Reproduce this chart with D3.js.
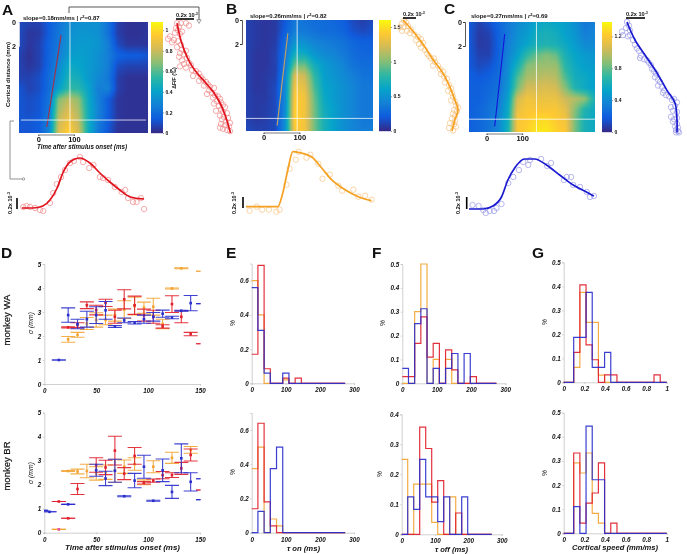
<!DOCTYPE html>
<html><head><meta charset="utf-8">
<style>html,body{margin:0;padding:0;background:#fff}svg{display:block;filter:blur(.4px)}text{font-family:"Liberation Sans",Arial,sans-serif;fill:#111}</style>
<script src="https://cdnjs.cloudflare.com/ajax/libs/d3/7.8.5/d3.min.js"></script></head><body>
<script>
/* colour map */
const parulaStops=[0,.125,.25,.375,.5,.625,.75,.875,1];
const parulaColors=['#352a87','#0f5cdd','#1481d6','#06a4ca','#2eb7a4','#87bf77','#d1bb59','#fec832','#f9fb0e'];
const RED='#e0202c',ORANGE='#f2a535',BLUE='#2a2fcc';

/* heat maps : fraction of colour range, rows = cortical distance, cols = time */
const heatA=[
[.08,.06,.06,.13,.20,.28,.30,.30,.30,.20,.05,.02,.02,.03],
[.08,.03,.04,.13,.22,.30,.32,.32,.30,.20,.05,.02,.02,.03],
[.08,.03,.06,.15,.22,.32,.34,.34,.32,.24,.08,.03,.03,.03],
[.06,.02,.06,.15,.24,.34,.36,.34,.30,.24,.15,.13,.13,.11],
[.06,.03,.06,.16,.28,.40,.38,.34,.30,.24,.08,.06,.06,.06],
[.06,.06,.09,.18,.30,.45,.42,.34,.28,.22,.05,.02,.02,.02],
[.11,.06,.09,.18,.36,.50,.48,.38,.24,.25,.05,.02,.02,.02],
[.11,.09,.11,.20,.62,.72,.64,.40,.25,.13,.03,.02,.02,.02],
[.11,.09,.11,.22,.68,.78,.68,.42,.26,.13,.03,.02,.02,.02],
[.11,.11,.13,.24,.74,.84,.72,.42,.24,.13,.03,.02,.02,.02],
[.11,.11,.13,.26,.78,.90,.76,.42,.22,.11,.02,.02,.02,.02]];
const heatB=[
[.06,.04,.03,.04,.12,.22,.20,.18,.18,.16,.14,.08,.05,.08],
[.06,.04,.03,.04,.14,.24,.22,.20,.18,.18,.15,.10,.08,.10],
[.06,.04,.03,.05,.18,.32,.30,.26,.24,.22,.20,.16,.14,.14],
[.06,.03,.03,.06,.20,.42,.40,.32,.28,.26,.22,.18,.16,.16],
[.06,.03,.03,.06,.22,.58,.58,.42,.34,.30,.26,.20,.18,.18],
[.06,.03,.04,.06,.26,.78,.74,.50,.36,.32,.28,.24,.20,.20],
[.06,.03,.04,.08,.28,.84,.80,.54,.38,.34,.30,.26,.22,.22],
[.06,.04,.04,.08,.28,.88,.84,.58,.40,.34,.30,.26,.22,.22],
[.06,.04,.05,.08,.28,.90,.84,.60,.42,.36,.30,.26,.22,.22],
[.06,.04,.05,.08,.30,.90,.84,.60,.44,.36,.30,.26,.22,.22],
[.08,.06,.06,.08,.30,.88,.84,.60,.44,.36,.30,.26,.24,.24]];
const heatC=[
[.12,.06,.10,.16,.22,.28,.32,.38,.40,.38,.36,.30,.22,.24],
[.12,.04,.06,.14,.22,.30,.34,.42,.44,.42,.36,.32,.24,.26],
[.12,.04,.05,.14,.24,.32,.38,.44,.46,.44,.40,.34,.28,.28],
[.12,.06,.06,.14,.26,.36,.50,.58,.62,.58,.44,.38,.34,.32],
[.12,.08,.10,.16,.28,.44,.62,.66,.66,.66,.48,.40,.36,.34],
[.14,.12,.14,.18,.30,.54,.68,.70,.72,.70,.54,.42,.40,.36],
[.14,.14,.16,.20,.32,.60,.76,.76,.78,.76,.62,.46,.40,.36],
[.14,.14,.18,.22,.36,.76,.84,.82,.82,.82,.74,.70,.64,.45],
[.14,.16,.20,.24,.40,.82,.86,.86,.86,.86,.80,.62,.46,.40],
[.14,.16,.20,.26,.42,.86,.88,.92,.92,.88,.84,.60,.44,.40],
[.14,.16,.20,.26,.44,.86,.90,.95,.95,.90,.86,.60,.44,.40]];

/* spatial profile : [dF (scale-bar units), distance mm] */
const profLineA=[[0,.1],[3,1.25],[7,2.3],[13,3.4],[20,4.25],[28,5],[36,5.8],[43,6.75],[48,7.75],[52,8.8],[53.5,9.25]];
const profPtsA=[[0,.1],[4,.1],[9,.1],[12,.3],[2,.4],[-1,.5],[1,.7],[5,.8],[-2,.9],[3,1.0],[-7,1.2],[-9,1.4],[-3,1.5],[-5,1.7],[1,1.6],[4,1.9],[0,2.1],[5,2.3],[9,2.4],[3,2.6],[7,2.7],[2,2.9],[10,3.0],[5,3.2],[12,3.4],[7,3.5],[14,3.6],[9,3.8],[3,3.7],[15,4.0],[19,4.1],[22,4.3],[16,4.5],[24,4.6],[26,4.8],[22,4.9],[29,5.0],[31,5.2],[27,5.3],[33,5.4],[37,5.5],[32,5.7],[35,5.9],[30,6.0],[38,6.1],[41,6.2],[36,6.3],[43,6.4],[40,6.6],[44,6.7],[37,6.8],[46,6.9],[42,7.0],[48,7.1],[44,7.3],[39,7.4],[46,7.5],[50,7.6],[43,7.8],[47,7.9],[51,8.0],[45,8.1],[49,8.3],[53,8.4],[44,8.5],[48,8.6],[52,8.7],[43,8.8],[46,8.9],[50,9.0],[53,9.1]];
const profLineB=[[0,0],[9,.83],[19,1.9],[30,3.3],[39,4.3],[46,5.4],[52,6.7],[55,7.5],[52,8.3],[49,9.25]];
const profPtsB=[[1,.05],[-1,.3],[3,.2],[-3,.6],[1,.6],[5,.5],[-1,.9],[4,.9],[8,.8],[7,1.1],[11,1.2],[15,1.4],[13,1.7],[18,1.6],[16,2.0],[20,1.9],[18,2.3],[22,2.5],[24,2.8],[26,3.0],[28,3.2],[31,3.2],[32,3.5],[30,3.8],[35,3.8],[37,4.1],[40,4.3],[38,4.5],[41,4.7],[44,4.9],[42,5.2],[46,5.4],[48,5.7],[45,5.9],[49,6.1],[50,6.4],[48,6.7],[52,6.8],[53,7.1],[55,7.3],[51,7.5],[54,7.6],[50,7.8],[52,8.0],[49,8.2],[52,8.4],[47,8.6],[51,8.7],[53,8.9],[46,9.0],[50,9.2]];
const profLineC=[[0,0],[8,1.5],[18,2.75],[30,4.25],[40,5.7],[48,6.75],[50,8.2],[50,9.2]];
const profPtsC=[[0,.0],[2,.3],[-1,.5],[3,.7],[-5,.8],[-4,1.1],[1,1.2],[3,1.1],[6,1.5],[8,1.9],[10,2.2],[12,2.4],[14,2.8],[13,3.0],[17,3.1],[20,3.2],[22,3.4],[24,3.6],[25,3.9],[27,4.1],[29,4.3],[28,4.6],[31,4.8],[33,5.0],[31,5.3],[35,5.4],[37,5.7],[36,5.9],[39,6.1],[42,6.2],[45,6.5],[47,6.4],[50,6.7],[48,7.0],[44,7.1],[46,7.4],[50,7.5],[44,7.9],[47,8.1],[50,8.0],[46,8.3],[50,8.5],[48,8.7],[51,8.8],[49,9.0],[51,9.1],[49,9.2],[52,9.2]];

/* time traces : [ms, dF (arbitrary)] */
const traceLineA=[[-46,0],[-15,0],[13,2],[33,8],[53,20],[69,35],[89,46],[117,50],[145,45],[173,35],[201,26],[229,18],[258,11],[297,9]];
const tracePtsA=[[-42,1],[-33,2],[-23,1],[-9,0],[5,-2],[14,-3],[33,5],[42,15],[52,24],[64,31],[75,38],[89,45],[100,47],[117,51],[126,46],[143,40],[155,43],[173,31],[182,30],[196,28],[215,21],[234,16],[244,18],[252,10],[266,6],[276,6],[288,10],[297,-1]];
const traceLineB=[[-49,0],[40,0],[54,14],[68,37],[82,55],[101,54],[134,50],[162,39],[190,27],[228,17],[265,10],[302,6]];
const tracePtsB=[[-39,-4],[-19,0],[-4,-3],[15,-3],[36,-5],[45,-3],[64,22],[73,38],[90,47],[98,55],[120,49],[131,52],[153,43],[165,28],[185,32],[209,21],[220,16],[251,17],[265,10],[284,11],[302,7]];
const traceLineC=[[-49,0],[-10,0],[18,3],[42,12],[60,29],[79,41],[107,50],[135,50],[168,44],[205,34],[243,24],[280,17],[301,13]];
const tracePtsC=[[-39,4],[-22,3],[-9,-1],[-2,-4],[9,-2],[21,-2],[28,1],[42,5],[61,26],[75,32],[91,39],[103,47],[117,44],[122,49],[153,50],[170,43],[181,46],[217,29],[225,32],[237,32],[243,24],[262,22],[281,17],[290,12],[301,13]];

/* panel D : [time ms, sigma mm, error] */
const dWaBlue=[[14,1,0],[23,2.87,.3],[32,2.5,.2],[41,2.7,.33],[50,2.87,.35],[59,3.07,.37],[68,2.4,.04],[77,2.65,.1],[87,2.55,.05],[96,2.7,.17],[105,2.8,.18],[114,2.93,.15],[123,2.77,.05],[132,3.05,.02],[141,3.37,.32],[153,3.35,0]];
const dWaRed=[[23,2.36,.02],[32,2.45,.1],[41,3.28,.14],[50,3.08,.2],[59,3.38,.15],[68,2.8,.27],[77,3.53,.4],[87,3.28,.38],[96,2.87,.25],[105,2.8,.27],[114,2.4,.07],[123,3.33,.35],[132,2.8,.25],[141,2.08,.07],[153,1.68,0]];
const dWaOrange=[[23,1.86,.12],[32,2.05,.1],[41,2.52,.25],[50,2.67,.3],[59,2.67,.2],[68,2.87,.25],[77,3.1,.37],[87,3.25,.37],[96,3.18,.23],[105,3.22,.35],[114,2.5,.2],[123,3.98,.02],[132,4.82,.02],[153,4.7,0]];
const dBrBlue=[[-3,.93,0],[5,.87,0],[23,1.18,0],[50,2.6,.25],[59,2.26,.3],[68,2.58,.48],[77,1.52,.02],[87,2.17,.3],[96,2.75,.48],[105,1.33,.02],[114,2.6,.47],[123,1.7,.27],[132,3.1,.6],[141,2.12,.38],[153,2.25,0],[153,1.38,0]];
const dBrRed=[[14,1.3,0],[23,.6,0],[32,1.82,.23],[50,2.82,.3],[59,2.72,.3],[68,3.42,.6],[77,2.46,.25],[87,3.2,.35],[96,2.08,.05],[105,2.17,.07],[114,2.4,.15],[123,2.4,.1],[132,2.68,.25],[141,3.24,.25],[153,1.78,0]];
const dBrOrange=[[14,.14,0],[23,2.57,.02],[32,2.55,.1],[41,2.57,.28],[50,2.47,.28],[59,2.52,.3],[68,2.58,.48],[77,2.75,.28],[87,2.86,.26],[96,2.1,.1],[105,2.75,.25],[123,3.12,.23],[141,3.45,.14]];

/* histograms: proportion per bin */
const eWaRed=[.17,.69,.085,0,0,.03,0,.03,0,0,0,0,0,0,0];
const eWaOrange=[.6,.4,0,0,0,.02,0,0,0,0,0,0,0,0,0];
const eWaBlue=[.56,.31,.06,0,0,.06,0,0,0,0,0,0,0,0,0];
const eBrRed=[.14,.64,.18,.04,0,0,0,0,0,0,0,0,0,0,0];
const eBrOrange=[.375,.5,0,.08,.04,0,0,0,0,0,0,0,0,0,0];
const eBrBlue=[0,.125,0,.375,.5,0,0,0,0,0,0,0,0,0,0];
const fWaRed=[.028,.028,.167,.278,.11,.167,0,.14,.056,0,0,.028,0,0,0];
const fWaOrange=[0,0,.3,.5,0,.1,0,.1,0,0,0,0,0,0,0];
const fWaBlue=[.0625,0,.25,.3125,0,.0625,0,.0625,.125,0,.125,0,0,0,0];
const fBrRed=[0,0,0,.357,.286,.107,.179,0,0,.071,0,0,0,0,0];
const fBrOrange=[.25,0,.167,.167,.167,.04,0,0,.125,0,0,0,0,0,0];
const fBrBlue=[0,.125,.083,.25,.125,.125,.042,.125,0,0,.125,0,0,0,0];
const gWaRed=[.125,.406,.156,.094,0,.031,.031,0,0,0,0,0,0,.031,0];
const gWaOrange=[.0625,.375,.25,.25,.03,0,0,0,0,0,0,0,0,0,0];
const gWaBlue=[.1875,.1875,.375,.0625,.0625,.125,0,0,0,0,0,0,0,0,0];
const gBrRed=[.333,.042,.125,.167,.292,0,.042,0,0,0,0,0,0,0,0];
const gBrOrange=[.292,.25,.333,.083,.042,0,0,0,0,0,0,0,0,0,0];
const gBrBlue=[.111,0,.444,.222,.222,0,0,0,0,0,0,0,0,0,0];

const W=687,H=554;
const svg=d3.select('body').append('svg').attr('width',W).attr('height',H);
const parula=d3.scaleLinear().domain(parulaStops).range(parulaColors).clamp(true);

function label(x,y,str,o={}){
  const t=svg.append('text').attr('x',x).attr('y',y).text(str)
   .attr('font-size',o.size||7).attr('font-weight',o.weight||'bold')
   .attr('font-style',o.style||'normal').attr('text-anchor',o.anchor||'start');
  if(o.rotate) t.attr('transform',`rotate(-90,${x},${y})`).attr('text-anchor','middle');
  if(o.len) t.attr('textLength',o.len).attr('lengthAdjust','spacingAndGlyphs');
  return t;
}
function sci(x,y,o={}){
  const t=label(x,y,'0.2x 10',Object.assign({size:5.6},o));
  t.append('tspan').attr('dy',-2).attr('font-size',3.6).text('-3');
  return t;
}

function heatPanel(p){
  const {x0,x1,y0,y1}=p;
  const xS=d3.scaleLinear().domain(p.tDomain).range([x0,x1]);
  const yS=d3.scaleLinear().domain([0,(y1-y0)/12]).range([y0,y1]);
  const w=Math.round(x1-x0),h=Math.round(y1-y0);
  const c=document.createElement('canvas');c.width=w;c.height=h;
  const ctx=c.getContext('2d');const img=ctx.createImageData(w,h);
  const R=p.grid.length-1,C=p.grid[0].length-1;
  const cx=d3.scaleLinear().domain([0,w-1]).range([0,C]);
  const cy=d3.scaleLinear().domain([0,h-1]).range([0,R]);
  for(let j=0;j<h;j++)for(let i=0;i<w;i++){
    const u=cx(i),v=cy(j),a=Math.min(Math.floor(u),C-1),b=Math.min(Math.floor(v),R-1),fu=u-a,fv=v-b;
    const val=d3.interpolateNumber(
      d3.interpolateNumber(p.grid[b][a],p.grid[b][a+1])(fu),
      d3.interpolateNumber(p.grid[b+1][a],p.grid[b+1][a+1])(fu))(fv);
    const col=d3.rgb(parula(val)),k=(j*w+i)*4;
    img.data[k]=col.r;img.data[k+1]=col.g;img.data[k+2]=col.b;img.data[k+3]=255;
  }
  ctx.putImageData(img,0,0);
  svg.append('image').attr('x',x0).attr('y',y0).attr('width',x1-x0).attr('height',y1-y0)
     .attr('preserveAspectRatio','none').attr('href',c.toDataURL());
  svg.append('line').attr('x1',xS(p.slope[0][0])).attr('y1',yS(p.slope[0][1])).attr('x2',xS(p.slope[1][0])).attr('y2',yS(p.slope[1][1]))
     .attr('stroke',p.slopeColor).attr('stroke-width',1.1);
  svg.append('line').attr('x1',xS(p.tLine)).attr('x2',xS(p.tLine)).attr('y1',y0).attr('y2',y1).attr('stroke','#fff').attr('stroke-opacity',.75).attr('stroke-width',1);
  svg.append('line').attr('x1',x0+(p.hInset||0)).attr('x2',x1-(p.hInset||0)).attr('y1',yS(p.dLine)).attr('y2',yS(p.dLine)).attr('stroke','#fff').attr('stroke-opacity',.75).attr('stroke-width',1);
  // distance axis
  const ax=svg.append('g').attr('transform',`translate(${x0-p.axisGap},0)`).call(d3.axisLeft(d3.scaleLinear().domain([0,2]).range([yS(0),yS(2)])).tickValues([0,2]).tickFormat(d3.format('d')).tickSize(2).tickPadding(1));
  ax.selectAll('path,line').attr('stroke',p.axisColor).attr('stroke-width',.8);
  ax.selectAll('text').attr('font-size',7.2).attr('font-weight','bold').style('font-family','"Liberation Sans"').attr('fill','#111');
  // time axis
  const ta=svg.append('g').attr('transform',`translate(0,${y1+1.5})`).call(d3.axisBottom(d3.scaleLinear().domain([0,100]).range([xS(0),xS(100)])).tickValues([0,100]).tickFormat(d3.format('d')).tickSize(1.5).tickPadding(1));
  ta.selectAll('path,line').attr('stroke','#444').attr('stroke-width',.7);
  ta.selectAll('text').attr('font-size',7.5).attr('font-weight','bold').style('font-family','"Liberation Sans"').attr('fill','#111');
  // colour bar
  const cbS=d3.scaleLinear().domain([0,p.cbMax]).range([y1,y0]);
  const rows=d3.range(0,y1-y0);
  svg.append('g').selectAll('rect').data(rows).join('rect').attr('x',p.cb0).attr('y',d=>y1-d-1).attr('width',p.cb1-p.cb0).attr('height',1.2).attr('fill',d=>parula(d/(y1-y0)));
  const ca=svg.append('g').attr('transform',`translate(${p.cb1},0)`).call(d3.axisRight(cbS).tickValues(p.cbTicks).tickFormat(d=>d).tickSize(1).tickPadding(1.5));
  ca.select('.domain').remove();
  ca.selectAll('line').attr('stroke','#333').attr('stroke-width',.5);
  ca.selectAll('text').attr('font-size',5).attr('font-weight','bold').style('font-family','"Liberation Sans"').attr('fill','#111');
  // spatial profile
  const px=d3.scaleLinear().domain([0,60]).range([p.profX,p.profX+60]);
  const py=yS;
  svg.append('g').selectAll('circle').data(p.profPts).join('circle').attr('cx',d=>px(d[0])).attr('cy',d=>py(d[1])).attr('r',2.7)
     .attr('fill','none').attr('stroke',p.pale).attr('stroke-width',.7);
  svg.append('path').attr('d',d3.line().x(d=>px(d[0])).y(d=>py(d[1])).curve(d3.curveCatmullRom)(p.profLine)).attr('fill','none').attr('stroke',p.color).attr('stroke-width',1.7);
  // temporal trace
  const ty=d3.scaleLinear().domain([0,50]).range([p.traceY,p.traceY-50]);
  svg.append('g').selectAll('circle').data(p.tracePts).join('circle').attr('cx',d=>xS(d[0])).attr('cy',d=>ty(d[1])).attr('r',2.7)
     .attr('fill','none').attr('stroke',p.pale).attr('stroke-width',.7);
  svg.append('path').attr('d',d3.line().x(d=>xS(d[0])).y(d=>ty(d[1])).curve(d3.curveMonotoneX)(p.traceLine)).attr('fill','none').attr('stroke',p.color).attr('stroke-width',1.7);
  // titles & scale bars
  const t=label(p.titleX,p.titleY,p.title,{size:6});
  t.append('tspan').attr('font-style','italic').text('r');
  t.append('tspan').attr('dy',-2).attr('font-size',4).text('2');
  t.append('tspan').attr('dy',2).text('='+p.r2);
  svg.append('line').attr('x1',p.bar[0]).attr('x2',p.bar[1]).attr('y1',p.barY).attr('y2',p.barY).attr('stroke','#000').attr('stroke-width',1.6);
  sci(p.bar[0],p.barY-2.5);
  svg.append('line').attr('x1',p.vbar[0]).attr('x2',p.vbar[0]).attr('y1',p.vbar[1]).attr('y2',p.vbar[2]).attr('stroke','#000').attr('stroke-width',1.6);
  sci(p.vbar[3],p.vbar[4],{rotate:true});
}

heatPanel({grid:heatA,x0:19,x1:148,y0:22,y1:133,tDomain:[-54,308],slope:[[64,1.1],[24,8.75]],slopeColor:'#a03048',tLine:89,dLine:8.17,hInset:2,axisColor:'#eee',axisGap:0,
  cb0:151,cb1:163,cbMax:1.08,cbTicks:[0,.2,.4,.6,.8,1],profX:177,profPts:profPtsA,profLine:profLineA,tracePts:tracePtsA,traceLine:traceLineA,traceY:208,
  color:'#e0141e',pale:'#f08a8a',title:'slope=0.18mm/ms | ',r2:'0.87',titleX:23,titleY:20,bar:[176,194],barY:19,vbar:[17,198,209,12,203]});
heatPanel({grid:heatB,x0:246,x1:373,y0:20,y1:131,tDomain:[-49,306],slope:[[68,1.1],[38,8.8]],slopeColor:'#c8a060',tLine:94,dLine:8.2,hInset:0,axisColor:'#333',axisGap:4,
  cb0:379,cb1:391,cbMax:1.6,cbTicks:[0,.5,1,1.5],profX:403,profPts:profPtsB,profLine:profLineB,tracePts:tracePtsB,traceLine:traceLineB,traceY:206.7,
  color:'#f5a020',pale:'#f6c383',title:'slope=0.26mm/ms | ',r2:'0.82',titleX:250,titleY:18,bar:[403,416],barY:18,vbar:[243,197,208,236,203]});
heatPanel({grid:heatC,x0:469,x1:595,y0:22,y1:132,tDomain:[-49,304],slope:[[51,1.0],[23,8.7]],slopeColor:'#1414d8',tLine:140,dLine:8.1,hInset:0,axisColor:'#333',axisGap:4,
  cb0:602,cb1:612,cbMax:1.38,cbTicks:[0,.4,.8,1.2],profX:627,profPts:profPtsC,profLine:profLineC,tracePts:tracePtsC,traceLine:traceLineC,traceY:209,
  color:'#1a1ad0',pale:'#9a9ae8',title:'slope=0.27mm/ms | ',r2:'0.69',titleX:471,titleY:18,bar:[626,645],barY:18,vbar:[466.7,197,209,460,203]});

/* connectors of panel A */
svg.append('path').attr('d',d3.line()([[69,13],[69,7],[199,7],[199,20]])).attr('fill','none').attr('stroke','#444').attr('stroke-width',.9);
svg.append('path').attr('d',d3.line()([[14,121],[10,121],[10,179],[22,179]])).attr('fill','none').attr('stroke','#777').attr('stroke-width',.8);
svg.append('path').attr('d',d3.symbol(d3.symbolTriangle,8)()).attr('transform','translate(199,21) rotate(180)').attr('fill','#fff').attr('stroke','#444').attr('stroke-width',.5);
svg.append('circle').attr('cx',23.5).attr('cy',179).attr('r',1.2).attr('fill','#fff').attr('stroke','#444').attr('stroke-width',.5);
label(9.5,74.5,'Cortical distance (mm)',{rotate:true,size:6,len:65});
label(176,78,'ΔF/F (‰)',{rotate:true,size:5.2});
label(37,149,'Time after stimulus onset (ms)',{size:6.4,style:'italic',len:90});

/* panel D */
function scatterPanel(yTop,yBot,series,extra){
  const x=d3.scaleLinear().domain([0,150]).range([44.3,200]);
  const y=d3.scaleLinear().domain([0,5]).range([yBot,yTop]);
  const g=svg.append('g');
  const clipId='c'+Math.round(yTop);
  svg.append('clipPath').attr('id',clipId).append('rect').attr('x',44).attr('y',yTop-2).attr('width',156.5).attr('height',yBot-yTop+4);
  const ax=g.append('g').attr('transform',`translate(0,${yBot})`).call(d3.axisBottom(x).tickValues([0,50,100,150]).tickSize(1.5).tickPadding(3));
  const ay=g.append('g').attr('transform','translate(44.3,0)').call(d3.axisLeft(y).ticks(5).tickFormat(d3.format('d')).tickSize(1.5).tickPadding(1.5));
  [ax,ay].forEach(a=>{a.selectAll('path,line').attr('stroke','#bbb').attr('stroke-width',.7);
    a.selectAll('text').attr('font-size',6.3).attr('font-weight','bold').attr('font-style','italic').style('font-family','"Liberation Sans"').attr('fill','#222');});
  const cap=7;
  series.forEach(s=>{
    const m=g.append('g').attr('clip-path',`url(#${clipId})`).selectAll('g').data(s.data).join('g').attr('stroke',s.color).attr('stroke-width',1.1).attr('stroke-opacity',.9);
    m.append('line').attr('x1',d=>x(d[0])).attr('x2',d=>x(d[0])).attr('y1',d=>y(d[1]-d[2])).attr('y2',d=>y(d[1]+d[2]));
    m.append('line').attr('x1',d=>x(d[0])-cap).attr('x2',d=>x(d[0])+cap).attr('y1',d=>y(d[1]-d[2])).attr('y2',d=>y(d[1]-d[2]));
    m.append('line').attr('x1',d=>x(d[0])-cap).attr('x2',d=>x(d[0])+cap).attr('y1',d=>y(d[1]+d[2])).attr('y2',d=>y(d[1]+d[2]));
    m.append('rect').attr('x',d=>x(d[0])-1.3).attr('y',d=>y(d[1])-1.3).attr('width',2.6).attr('height',2.6).attr('fill',s.color).attr('stroke','none');
  });
  if(extra) g.append('rect').attr('x',x(extra[0])-1.3).attr('y',y(extra[1])-1.3).attr('width',2.6).attr('height',2.6).attr('fill','#e455b4');
}
scatterPanel(264,384,[{data:dWaOrange,color:ORANGE},{data:dWaRed,color:RED},{data:dWaBlue,color:BLUE}]);
scatterPanel(412.7,532.7,[{data:dBrOrange,color:ORANGE},{data:dBrRed,color:RED},{data:dBrBlue,color:BLUE}],[14,.14]);
label(10,320,'monkey WA',{rotate:true,size:9.5,weight:'normal'}).attr('stroke','#111').attr('stroke-width',.2);
label(10,466,'monkey BR',{rotate:true,size:9.5,weight:'normal'}).attr('stroke','#111').attr('stroke-width',.2);
label(33,323,'σ (mm)',{rotate:true,size:6.8,weight:'normal',style:'italic'});
label(33,473,'σ (mm)',{rotate:true,size:6.8,weight:'normal',style:'italic'});
label(65,550,'Time after stimulus onset (ms)',{size:8,style:'italic',len:115});

/* histograms */
function histPanel(h){
  const x=d3.scaleLinear().domain(h.xDomain).range(h.xRange);
  const y=d3.scaleLinear().domain([0,h.yTop]).range([h.y0,h.y1]);
  const ax=svg.append('g').attr('transform',`translate(0,${h.y0})`).call(d3.axisBottom(x).tickValues(h.xTicks).tickFormat(h.xFmt).tickSize(1.5).tickPadding(3));
  const ay=svg.append('g').attr('transform',`translate(${h.xRange[0]},0)`).call(d3.axisLeft(y).tickValues(h.yTicks).tickFormat(d=>d).tickSize(1.5).tickPadding(1.5));
  [ax,ay].forEach(a=>{a.selectAll('path,line').attr('stroke','#bbb').attr('stroke-width',.7);
    a.selectAll('text').attr('font-size',6.3).attr('font-weight','bold').attr('font-style','italic').style('font-family','"Liberation Sans"').attr('fill','#222');});
  h.series.forEach(s=>{
    const pts=[];
    if(h.start>h.xDomain[0]) {pts.push([h.xDomain[0],0]);pts.push([h.start,0]);}
    s.values.forEach((v,i)=>{pts.push([h.start+h.bin*i,v]);pts.push([h.start+h.bin*(i+1),v]);});
    pts.push([h.end,0]);
    svg.append('path').attr('d',d3.line().x(d=>x(Math.min(d[0],h.end))).y(d=>y(d[1]))(pts)).attr('fill','none').attr('stroke',s.color).attr('stroke-width',1.2).attr('stroke-opacity',.92);
  });
}
const msT=[0,100,200,300],fmtD=d3.format('d');
histPanel({xDomain:[0,300],xRange:[251.7,354],y0:383.3,y1:263.6,yTop:.7,xTicks:msT,xFmt:fmtD,yTicks:[0,.2,.4,.6],start:0,bin:18.2,end:274,
  series:[{values:eWaOrange,color:ORANGE},{values:eWaRed,color:RED},{values:eWaBlue,color:BLUE}]});
histPanel({xDomain:[0,300],xRange:[251.7,354],y0:532.7,y1:413,yTop:.7,xTicks:msT,xFmt:fmtD,yTicks:[0,.2,.4,.6],start:0,bin:18.2,end:274,
  series:[{values:eBrOrange,color:ORANGE},{values:eBrRed,color:RED},{values:eBrBlue,color:BLUE}]});
histPanel({xDomain:[0,300],xRange:[402.3,505.3],y0:383.3,y1:264,yTop:.5,xTicks:msT,xFmt:fmtD,yTicks:[0,.1,.2,.3,.4,.5],start:0,bin:18,end:274,
  series:[{values:fWaOrange,color:ORANGE},{values:fWaRed,color:RED},{values:fWaBlue,color:BLUE}]});
histPanel({xDomain:[0,300],xRange:[401.7,501.7],y0:534.3,y1:414.3,yTop:.4,xTicks:msT,xFmt:fmtD,yTicks:[0,.1,.2,.3,.4],start:0,bin:18,end:270,
  series:[{values:fBrOrange,color:ORANGE},{values:fBrRed,color:RED},{values:fBrBlue,color:BLUE}]});
histPanel({xDomain:[0,1],xRange:[563.7,666.7],y0:382.3,y1:262.3,yTop:.5,xTicks:[0,.2,.4,.6,.8,1],xFmt:d=>d,yTicks:[0,.1,.2,.3,.4,.5],start:.097,bin:.06,end:1,
  series:[{values:gWaOrange,color:ORANGE},{values:gWaRed,color:RED},{values:gWaBlue,color:BLUE}]});
histPanel({xDomain:[0,1],xRange:[563.7,666.7],y0:533.3,y1:412.7,yTop:.5,xTicks:[0,.2,.4,.6,.8,1],xFmt:d=>d,yTicks:[0,.1,.2,.3,.4,.5],start:.097,bin:.06,end:1,
  series:[{values:gBrOrange,color:ORANGE},{values:gBrRed,color:RED},{values:gBrBlue,color:BLUE}]});
[[235,323],[235,472],[385,323],[382,474],[547,322],[547,473]].forEach(p=>label(p[0],p[1],'%',{rotate:true,size:7,weight:'normal',style:'italic'}));
label(287,551,'τ on (ms)',{size:8,style:'italic',len:33});
label(435,552,'τ off (ms)',{size:8,style:'italic',len:33});
label(572,550,'Cortical speed (mm/ms)',{size:8,style:'italic',len:86});

/* panel letters */
[['A',2,15],['B',226,14],['C',444,14],['D',1,258],['E',226,258],['F',372,258],['G',532,258]]
  .forEach(d=>label(d[1],d[2],d[0],{size:15.5}));
</script></body></html>
